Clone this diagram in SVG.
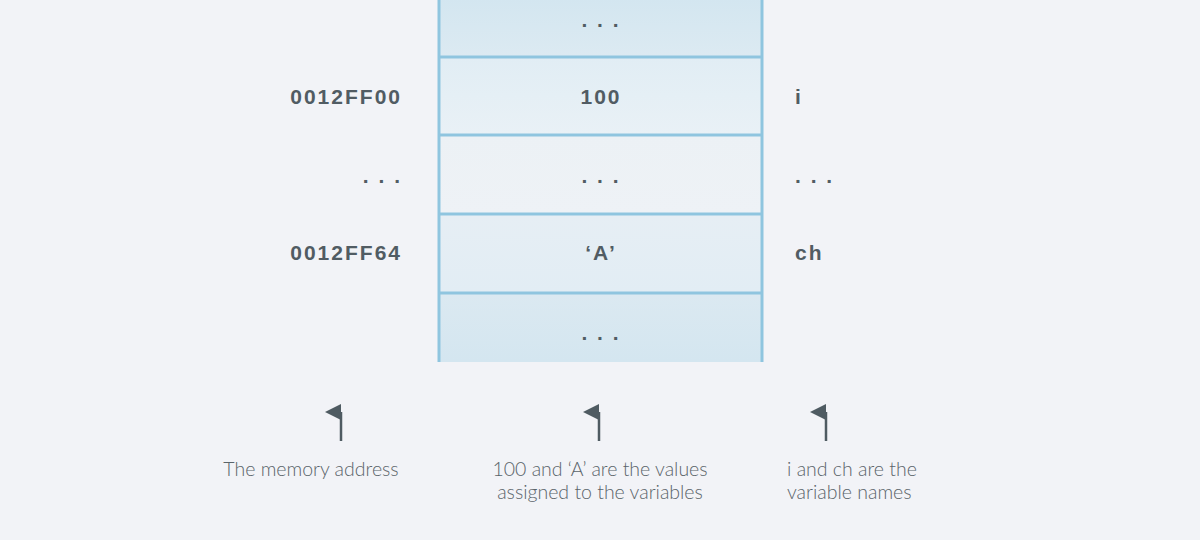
<svg xmlns="http://www.w3.org/2000/svg" width="1200" height="540" viewBox="0 0 1200 540">
<style>
.b{font-family:"Liberation Sans",Arial,sans-serif;font-weight:bold;font-size:21px;fill:#515c63;letter-spacing:2px}
.l{font-family:Lato,"Open Sans",sans-serif;font-weight:300;font-size:19.5px;fill:#5a646a}
.cell{stroke:#8fc5df;stroke-width:3}
.ar{stroke:#4f5b62;stroke-width:2.5}
</style>
<defs>
<linearGradient id="g1" x1="0" y1="0" x2="0" y2="1"><stop offset="0" stop-color="#d3e6f0"/><stop offset="1" stop-color="#dceaf2"/></linearGradient>
<linearGradient id="g2" x1="0" y1="0" x2="0" y2="1"><stop offset="0" stop-color="#e1edf4"/><stop offset="1" stop-color="#e9f1f6"/></linearGradient>
<linearGradient id="g3" x1="0" y1="0" x2="0" y2="1"><stop offset="0" stop-color="#ecf1f5"/><stop offset="1" stop-color="#eef2f6"/></linearGradient>
<linearGradient id="g4" x1="0" y1="0" x2="0" y2="1"><stop offset="0" stop-color="#e6eef4"/><stop offset="1" stop-color="#e2edf4"/></linearGradient>
<linearGradient id="g5" x1="0" y1="0" x2="0" y2="1"><stop offset="0" stop-color="#dbe9f1"/><stop offset="1" stop-color="#d4e6f0"/></linearGradient>
<marker id="ah" viewBox="0 0 10 10" refX="5" refY="10" markerWidth="16" markerHeight="16" markerUnits="userSpaceOnUse" orient="auto-start-reverse"><path d="M0,10 L5,0 L10,10 Z" fill="#4f5b62"/></marker>
</defs>
<rect width="1200" height="540" fill="#f2f3f7"/>
<g id="memory">
<rect x="439" y="-2" width="323" height="59" fill="url(#g1)"/>
<rect x="439" y="57" width="323" height="78" fill="url(#g2)"/>
<rect x="439" y="135" width="323" height="79" fill="url(#g3)"/>
<rect x="439" y="214" width="323" height="79" fill="url(#g4)"/>
<rect x="439" y="293" width="323" height="69" fill="url(#g5)"/>
<line class="cell" x1="439" y1="57" x2="762" y2="57"/>
<line class="cell" x1="439" y1="135" x2="762" y2="135"/>
<line class="cell" x1="439" y1="214" x2="762" y2="214"/>
<line class="cell" x1="439" y1="293" x2="762" y2="293"/>
<line class="cell" x1="439" y1="0" x2="439" y2="362"/>
<line class="cell" x1="762" y1="0" x2="762" y2="362"/>
<text class="b" x="601" y="27" text-anchor="middle">. . .</text>
<text class="b" x="601" y="104" text-anchor="middle">100</text>
<text class="b" x="601" y="183" text-anchor="middle">. . .</text>
<text class="b" x="601" y="260" text-anchor="middle">‘A’</text>
<text class="b" x="601" y="340" text-anchor="middle">. . .</text>
</g>
<g id="addresses">
<text class="b" x="402" y="104" text-anchor="end">0012FF00</text>
<text class="b" x="402" y="183" text-anchor="end">. . .</text>
<text class="b" x="402" y="260" text-anchor="end">0012FF64</text>
</g>
<g id="names">
<text class="b" x="795" y="104">i</text>
<text class="b" x="795" y="183">. . .</text>
<text class="b" x="795" y="260">ch</text>
</g>
<g id="connectors">
<line class="ar" x1="341" y1="441" x2="341" y2="412" marker-end="url(#ah)"/>
<line class="ar" x1="599" y1="441" x2="599" y2="412" marker-end="url(#ah)"/>
<line class="ar" x1="826" y1="441" x2="826" y2="412" marker-end="url(#ah)"/>
</g>
<g id="captions">
<text class="l" x="311" y="476" text-anchor="middle">The memory address</text>
<text class="l" x="600" y="476" text-anchor="middle">100 and ‘A’ are the values</text>
<text class="l" x="600" y="499" text-anchor="middle">assigned to the variables</text>
<text class="l" x="787" y="476">i and ch are the</text>
<text class="l" x="787" y="499">variable names</text>
</g>
</svg>
